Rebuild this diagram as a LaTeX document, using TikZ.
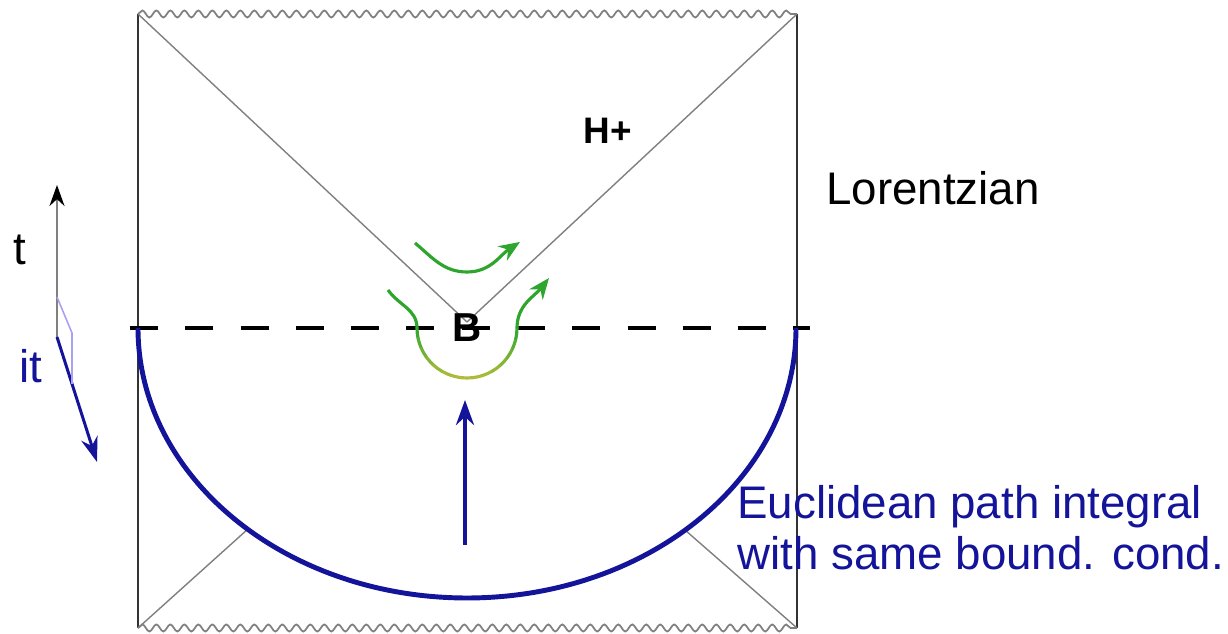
\documentclass[tikz,border=0pt]{standalone}
\usepackage{fontspec}
\setmainfont{Liberation Sans}
\usetikzlibrary{arrows.meta, decorations.pathmorphing}
\definecolor{navy}{HTML}{14149A}
\definecolor{leafgreen}{HTML}{2EA62E}
\definecolor{olivegreen}{HTML}{B0BC3A}
\definecolor{edgegray}{HTML}{333333}
\definecolor{nullgray}{HTML}{808080}
\definecolor{lavender}{HTML}{A8A0F0}

\begin{document}
\begin{tikzpicture}[x=0.02cm, y=0.02cm,
    bigtext/.style={font=\fontsize{26}{29}\selectfont, inner sep=0pt},
    boundary/.style={edgegray, line width=1.5pt},
    horizon/.style={nullgray, line width=0.8pt},
    singular/.style={nullgray, line width=1pt, decorate,
                     decoration={snake, segment length=0.28cm, amplitude=0.07cm}},
    flow/.style={leafgreen, line width=1.8pt, -{Stealth[length=0.42cm, width=0.34cm]}},
    eucl/.style={navy, line width=2.8pt},
]
\useasboundingbox (0,0) rectangle (1228,634);

% corners of the diagram
\coordinate (tl) at (138,620);
\coordinate (tr) at (797,620);
\coordinate (bl) at (138,6);
\coordinate (br) at (797,6);
\coordinate (bif) at (467,312);
\coordinate (ctr) at (467,306);
\coordinate (elo) at (248,105);
\coordinate (ero) at (685,104);

\draw[boundary] (bl) -- (tl);
\draw[boundary] (br) -- (tr);
\draw[singular] (tl) -- (tr);
\draw[singular] (bl) -- (br);
\draw[horizon] (tl) -- (bif);
\draw[horizon] (tr) -- (bif);
\draw[horizon] (bl) -- (elo);
\draw[horizon] (br) -- (ero);

\draw[black, line width=2.3pt, dash pattern=on 0.56cm off 0.546cm] (130,306) -- (810,306);
\draw[eucl] (138,306) arc[start angle=180, end angle=360, x radius=329, y radius=270];

\node[font=\bfseries\fontsize{23}{23}\selectfont, inner sep=0pt] (B) at (ctr) {B};
\node[font=\bfseries\fontsize{21}{21}\selectfont, inner sep=0pt] (hplus) at (608,503) {H+};
\node[bigtext, anchor=west] (lor) at (826,446) {Lorentzian};
\node[bigtext, navy, anchor=north west, align=left] (euc) at (737,149)
    {Euclidean path integral\\with same bound. cond.};

% euclidean evolution
\coordinate (eu0) at (465,89);
\coordinate (eu1) at (465,234);
\draw[eucl, -{Stealth[length=0.5cm, width=0.36cm]}] (eu0) -- (eu1);

% green flows near B
\coordinate (ga0) at (415,391);
\coordinate (ga1) at (467,362);
\coordinate (ga2) at (520,392);
\draw[flow] (ga0) to[out=-40, in=180] (ga1) to[out=0, in=213] (ga2);

\coordinate (gb0) at (388,344);
\coordinate (gb1) at (417,306);
\coordinate (gb2) at (517,306);
\coordinate (gb3) at (549,356);
\draw[leafgreen, line width=1.8pt] (gb0) to[out=-55, in=90] (gb1);
\foreach \a in {180,192,...,348} {
  \pgfmathtruncatemacro\m{100*abs(sin(\a+6))}
  \draw[olivegreen!\m!leafgreen, line width=1.8pt, line cap=round]
    (ctr) ++(\a:50) arc[start angle=\a, end angle=\a+12, radius=50];
}
\draw[flow] (gb2) to[out=90, in=232] (gb3);

% time axes
\coordinate (o) at (57,297);
\coordinate (tend) at (57,449);
\coordinate (itend) at (97,172);
\draw[nullgray, line width=1.3pt, -{Stealth[length=0.42cm, width=0.3cm, color=black]}] (o) -- (tend);
\draw[navy, line width=1.7pt, -{Stealth[length=0.5cm, width=0.34cm]}] (o) -- (itend);
\draw[lavender, line width=0.9pt] (57,337) -- (72,301) -- (72,250);
\node[bigtext] (tlab) at (20,384) {t};
\node[bigtext, navy] (itlab) at (31,268) {it};
\end{tikzpicture}
\end{document}
